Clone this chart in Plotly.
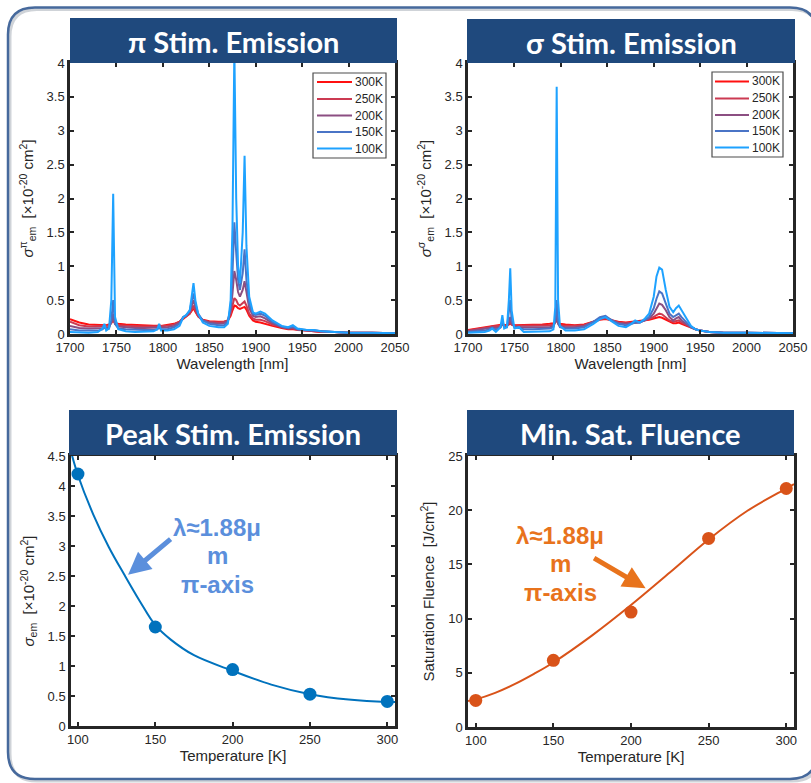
import plotly.graph_objects as go

# ---------------- data ----------------
temps = ["300K", "250K", "200K", "150K", "100K"]
temp_colors = ["#ff1010", "#cc3a52", "#8c4f82", "#4a74c6", "#1ea2ff"]

# pi-polarised stimulated emission cross section [1e-20 cm^2]
wl_pi = [1700, 1710, 1720, 1730, 1735, 1737, 1739, 1742, 1744.5, 1746.5, 1748.5, 1752, 1760, 1770, 1780,
         1790, 1794, 1796, 1798, 1805, 1812, 1818, 1822, 1825, 1829, 1831, 1833, 1835, 1838, 1843,
         1850, 1860, 1866, 1870, 1873, 1875, 1877, 1879, 1881, 1883, 1886, 1888, 1890, 1893, 1897,
         1900, 1905, 1910, 1918, 1928, 1935, 1940, 1945, 1955, 1963, 1970, 1985, 2000, 2025, 2050]
pi_300K = [0.22, 0.17, 0.14, 0.13, 0.13, 0.13, 0.13, 0.14, 0.17, 0.20, 0.16, 0.15, 0.14, 0.13, 0.12,
           0.12, 0.12, 0.13, 0.12, 0.13, 0.15, 0.18, 0.22, 0.25, 0.30, 0.34, 0.38, 0.33, 0.26, 0.21,
           0.19, 0.18, 0.18, 0.20, 0.27, 0.35, 0.42, 0.41, 0.38, 0.37, 0.39, 0.40, 0.36, 0.27, 0.20,
           0.18, 0.17, 0.15, 0.12, 0.09, 0.07, 0.07, 0.06, 0.05, 0.04, 0.03, 0.03, 0.02, 0.02, 0.01]
pi_250K = [0.18, 0.13, 0.11, 0.11, 0.11, 0.12, 0.11, 0.12, 0.16, 0.22, 0.15, 0.13, 0.12, 0.11, 0.11,
           0.11, 0.11, 0.12, 0.11, 0.12, 0.14, 0.18, 0.24, 0.26, 0.30, 0.36, 0.42, 0.35, 0.26, 0.20,
           0.18, 0.17, 0.18, 0.20, 0.30, 0.42, 0.53, 0.50, 0.44, 0.42, 0.45, 0.48, 0.42, 0.30, 0.23,
           0.21, 0.21, 0.19, 0.14, 0.10, 0.08, 0.08, 0.06, 0.05, 0.04, 0.03, 0.03, 0.02, 0.02, 0.01]
pi_200K = [0.12, 0.09, 0.08, 0.08, 0.09, 0.10, 0.09, 0.10, 0.18, 0.30, 0.15, 0.11, 0.10, 0.09, 0.09,
           0.09, 0.09, 0.10, 0.09, 0.10, 0.12, 0.17, 0.25, 0.27, 0.33, 0.42, 0.50, 0.40, 0.28, 0.20,
           0.17, 0.15, 0.16, 0.20, 0.35, 0.60, 0.93, 0.80, 0.62, 0.55, 0.65, 0.78, 0.60, 0.38, 0.27,
           0.25, 0.26, 0.23, 0.16, 0.10, 0.08, 0.09, 0.07, 0.05, 0.05, 0.04, 0.03, 0.02, 0.02, 0.01]
pi_150K = [0.07, 0.05, 0.05, 0.05, 0.07, 0.10, 0.07, 0.08, 0.20, 0.50, 0.15, 0.08, 0.07, 0.06, 0.06,
           0.06, 0.07, 0.10, 0.07, 0.07, 0.10, 0.15, 0.25, 0.27, 0.35, 0.48, 0.60, 0.45, 0.30, 0.20,
           0.15, 0.13, 0.13, 0.18, 0.40, 0.90, 1.65, 1.20, 0.80, 0.65, 0.90, 1.25, 0.80, 0.45, 0.30,
           0.28, 0.30, 0.27, 0.18, 0.11, 0.09, 0.11, 0.07, 0.06, 0.05, 0.04, 0.03, 0.02, 0.02, 0.01]
pi_100K = [0.03, 0.02, 0.02, 0.03, 0.08, 0.15, 0.05, 0.08, 0.50, 2.07, 0.25, 0.07, 0.04, 0.03, 0.03,
           0.04, 0.07, 0.15, 0.05, 0.05, 0.07, 0.12, 0.25, 0.28, 0.35, 0.55, 0.75, 0.50, 0.30, 0.17,
           0.12, 0.10, 0.10, 0.15, 0.50, 1.60, 4.20, 2.00, 1.00, 0.75, 1.50, 2.63, 1.30, 0.55, 0.32,
           0.30, 0.33, 0.30, 0.20, 0.12, 0.10, 0.13, 0.08, 0.06, 0.06, 0.04, 0.03, 0.02, 0.02, 0.01]

# sigma-polarised stimulated emission cross section [1e-20 cm^2]
wl_sg = [1700, 1710, 1718, 1723, 1726, 1730, 1735, 1737, 1739, 1742, 1744, 1745.5, 1747, 1750, 1755,
         1760, 1770, 1780, 1788, 1792, 1794, 1795.5, 1797, 1799, 1805, 1815, 1825, 1835, 1842, 1848,
         1855, 1862, 1870, 1876, 1880, 1885, 1890, 1895, 1900, 1903, 1906, 1909, 1913, 1917, 1921,
         1924, 1927, 1930, 1935, 1940, 1945, 1950, 1960, 1975, 2000, 2025, 2050]
sg_300K = [0.06, 0.08, 0.10, 0.11, 0.12, 0.12, 0.13, 0.14, 0.13, 0.13, 0.14, 0.16, 0.14, 0.13, 0.13,
           0.13, 0.13, 0.14, 0.15, 0.16, 0.18, 0.20, 0.17, 0.15, 0.14, 0.13, 0.14, 0.18, 0.21, 0.22,
           0.20, 0.18, 0.17, 0.18, 0.19, 0.19, 0.20, 0.21, 0.23, 0.24, 0.25, 0.24, 0.21, 0.18, 0.16,
           0.16, 0.17, 0.15, 0.12, 0.09, 0.07, 0.05, 0.03, 0.02, 0.02, 0.01, 0.01]
sg_250K = [0.05, 0.07, 0.08, 0.10, 0.11, 0.11, 0.12, 0.14, 0.12, 0.12, 0.15, 0.18, 0.14, 0.12, 0.12,
           0.12, 0.12, 0.12, 0.13, 0.14, 0.17, 0.22, 0.16, 0.13, 0.12, 0.12, 0.13, 0.18, 0.22, 0.23,
           0.20, 0.17, 0.16, 0.17, 0.18, 0.18, 0.20, 0.22, 0.25, 0.28, 0.30, 0.29, 0.25, 0.20, 0.18,
           0.19, 0.20, 0.17, 0.13, 0.10, 0.07, 0.05, 0.03, 0.02, 0.02, 0.01, 0.01]
sg_200K = [0.04, 0.06, 0.07, 0.09, 0.10, 0.09, 0.10, 0.15, 0.11, 0.11, 0.18, 0.25, 0.15, 0.11, 0.10,
           0.10, 0.10, 0.10, 0.10, 0.12, 0.18, 0.30, 0.15, 0.11, 0.10, 0.10, 0.12, 0.18, 0.23, 0.25,
           0.20, 0.16, 0.15, 0.16, 0.17, 0.17, 0.20, 0.23, 0.30, 0.38, 0.45, 0.43, 0.35, 0.25, 0.20,
           0.23, 0.25, 0.20, 0.15, 0.10, 0.07, 0.05, 0.03, 0.02, 0.02, 0.01, 0.01]
sg_150K = [0.03, 0.04, 0.05, 0.07, 0.09, 0.06, 0.10, 0.20, 0.10, 0.10, 0.30, 0.50, 0.20, 0.10, 0.09,
           0.07, 0.07, 0.07, 0.08, 0.10, 0.20, 0.50, 0.20, 0.10, 0.08, 0.08, 0.10, 0.18, 0.25, 0.27,
           0.20, 0.15, 0.13, 0.15, 0.17, 0.17, 0.20, 0.25, 0.38, 0.52, 0.63, 0.60, 0.45, 0.30, 0.25,
           0.28, 0.30, 0.25, 0.17, 0.10, 0.07, 0.05, 0.03, 0.02, 0.02, 0.01, 0.01]
sg_100K = [0.02, 0.02, 0.03, 0.05, 0.08, 0.03, 0.10, 0.28, 0.08, 0.10, 0.50, 0.97, 0.35, 0.08, 0.10,
           0.03, 0.03, 0.03, 0.04, 0.07, 0.40, 3.65, 0.50, 0.12, 0.05, 0.05, 0.07, 0.15, 0.22, 0.25,
           0.18, 0.12, 0.10, 0.15, 0.20, 0.17, 0.22, 0.30, 0.55, 0.85, 0.98, 0.95, 0.65, 0.40, 0.32,
           0.38, 0.42, 0.35, 0.22, 0.12, 0.07, 0.05, 0.03, 0.02, 0.02, 0.01, 0.01]

pi_series = [pi_300K, pi_250K, pi_200K, pi_150K, pi_100K]
sg_series = [sg_300K, sg_250K, sg_200K, sg_150K, sg_100K]

# peak cross section and saturation fluence vs temperature (lambda ~ 1.88 um, pi axis)
T_meas = [100, 150, 200, 250, 300]
peak_sigma = [4.20, 1.65, 0.94, 0.53, 0.41]
sat_fluence = [2.45, 6.15, 10.6, 17.4, 22.0]

# smooth fitted curves
T_fit = [95, 100, 110, 120, 130, 140, 150, 160, 175, 200, 225, 250, 275, 300, 305]
peak_sigma_fit = [4.62, 4.18, 3.52, 2.98, 2.52, 2.08, 1.68, 1.44, 1.18, 0.92, 0.69, 0.53, 0.44, 0.40, 0.40]
T_fit2 = [95, 100, 112.5, 125, 137.5, 150, 175, 200, 225, 250, 275, 300, 305]
sat_fluence_fit = [2.40, 2.55, 3.15, 3.95, 4.90, 5.95, 8.45, 11.25, 14.25, 17.30, 19.95, 22.00, 22.40]

# ---------------- layout helpers ----------------
W, H = 811, 783


def fx(x):
    return x / W


def fy(y):
    return 1 - y / H


SANS = "Arial, Liberation Sans, sans-serif"
TICK_FONT = dict(family=SANS, size=13, color="#262626")
TITLE_FONT = dict(family=SANS, size=15, color="#262626")


def axis_style(**kw):
    base = dict(
        showline=True, mirror="ticks", linecolor="#262626", linewidth=2.5,
        ticks="inside", ticklen=4, tickwidth=2, tickcolor="#262626",
        showgrid=False, zeroline=False, tickfont=TICK_FONT,
        title_font=TITLE_FONT, automargin=False,
    )
    base.update(kw)
    return base


fig = go.Figure()

# spectra
for name, col, vals in zip(temps, temp_colors, pi_series):
    fig.add_trace(go.Scatter(x=wl_pi, y=vals, mode="lines", name=name, showlegend=False,
                             line=dict(color=col, width=2), xaxis="x", yaxis="y"))
for name, col, vals in zip(temps, temp_colors, sg_series):
    fig.add_trace(go.Scatter(x=wl_sg, y=vals, mode="lines", name=name, showlegend=False,
                             line=dict(color=col, width=2), xaxis="x2", yaxis="y2"))

# peak stimulated emission vs temperature
fig.add_trace(go.Scatter(x=T_fit, y=peak_sigma_fit, mode="lines", line=dict(color="#0072bd", width=2, shape="spline"),
                         showlegend=False, xaxis="x3", yaxis="y3"))
fig.add_trace(go.Scatter(x=T_meas, y=peak_sigma, mode="markers", marker=dict(color="#0072bd", size=13),
                         showlegend=False, xaxis="x3", yaxis="y3", cliponaxis=False))

# saturation fluence vs temperature
fig.add_trace(go.Scatter(x=T_fit2, y=sat_fluence_fit, mode="lines", line=dict(color="#d95319", width=2, shape="spline"),
                         showlegend=False, xaxis="x4", yaxis="y4"))
fig.add_trace(go.Scatter(x=T_meas, y=sat_fluence, mode="markers", marker=dict(color="#d95319", size=13),
                         showlegend=False, xaxis="x4", yaxis="y4", cliponaxis=False))

wl_ticks = [1700, 1750, 1800, 1850, 1900, 1950, 2000, 2050]
T_ticks = [100, 150, 200, 250, 300]

ylab_pi = "<i>σ</i><sup>π</sup><sub>em</sub>  [×10<sup>-20</sup> cm<sup>2</sup>]"
ylab_sg = "<i>σ</i><sup>σ</sup><sub>em</sub>  [×10<sup>-20</sup> cm<sup>2</sup>]"
ylab_pk = "<i>σ</i><sub>em</sub>  [×10<sup>-20</sup> cm<sup>2</sup>]"
ylab_fl = "Saturation Fluence  [J/cm<sup>2</sup>]"

fig.update_layout(
    width=W, height=H,
    margin=dict(l=0, r=0, t=0, b=0, autoexpand=False),
    paper_bgcolor="white", plot_bgcolor="white",
    xaxis=axis_style(domain=[fx(70), fx(395)], range=[1700, 2050], tickvals=wl_ticks,
                     anchor="y", title_text="Wavelength [nm]", title_standoff=5),
    yaxis=axis_style(domain=[fy(334), fy(63)], range=[0, 4], dtick=0.5, anchor="x",
                     title_text=ylab_pi, title_standoff=10),
    xaxis2=axis_style(domain=[fx(468), fx(793)], range=[1700, 2050], tickvals=wl_ticks,
                      anchor="y2", title_text="Wavelength [nm]", title_standoff=5),
    yaxis2=axis_style(domain=[fy(334), fy(63)], range=[0, 4], dtick=0.5, anchor="x2",
                      title_text=ylab_sg, title_standoff=10),
    xaxis3=axis_style(domain=[fx(71), fx(395)], range=[95.5, 305], tickvals=T_ticks,
                      anchor="y3", title_text="Temperature [K]", title_standoff=5),
    yaxis3=axis_style(domain=[fy(726), fy(456)], range=[0, 4.5], dtick=0.5, anchor="x3",
                      title_text=ylab_pk, title_standoff=10),
    xaxis4=axis_style(domain=[fx(468), fx(794)], range=[95, 305], tickvals=T_ticks,
                      anchor="y4", title_text="Temperature [K]", title_standoff=5),
    yaxis4=axis_style(domain=[fy(727), fy(456)], range=[0, 25], dtick=5, anchor="x4",
                      title_text=ylab_fl, title_standoff=10),
)

# rounded outer frame
L, T, R, B, r = 8, 7.5, 817, 779, 27


def frame_path(dx=0.0, dy=0.0):
    l, t, rr, b = L + dx, T + dy, R + dx, B + dy
    pts = [
        ("M", (l, t + r)), ("Q", (l, t), (l + r, t)), ("L", (rr - r, t)),
        ("Q", (rr, t), (rr, t + r)), ("L", (rr, b - r)), ("Q", (rr, b), (rr - r, b)),
        ("L", (l + r, b)), ("Q", (l, b), (l, b - r)),
    ]
    out = []
    for item in pts:
        cmd, coords = item[0], item[1:]
        out.append(cmd + " " + " ".join(f"{fx(x):.5f},{fy(y):.5f}" for x, y in coords))
    return " ".join(out) + " Z"


shapes = [
    dict(type="path", xref="paper", yref="paper", path=frame_path(2, 2),
         line=dict(color="#cfd3d8", width=3), layer="below"),
    dict(type="path", xref="paper", yref="paper", path=frame_path(),
         line=dict(color="#46699c", width=2.5), layer="below"),
]
annotations = []

# title banners
banners = [
    ((70, 18, 397, 63), "π Stim. Emission"),
    ((467, 19, 795, 63), "σ Stim. Emission"),
    ((69, 410, 397, 455), "Peak Stim. Emission"),
    ((467, 410, 794, 455), "Min. Sat. Fluence"),
]
for (x0, y0, x1, y1), text in banners:
    shapes.append(dict(type="rect", xref="paper", yref="paper",
                       x0=fx(x0), x1=fx(x1), y0=fy(y1), y1=fy(y0),
                       fillcolor="#1f497d", line=dict(width=0), layer="above"))
    annotations.append(dict(xref="paper", yref="paper", x=fx((x0 + x1) / 2), y=fy((y0 + y1) / 2 + 1),
                            text=f"<b>{text}</b>", showarrow=False, xanchor="center", yanchor="middle",
                            font=dict(family="Lato, Open Sans, sans-serif", size=29, color="white")))

# legends for the two spectra panels: box (x0, y0, x1, y1) and entry rows
legend_boxes = [
    ((313, 73, 386, 158), [82, 99, 115.5, 132, 148.5], 317, 352),
    ((712, 72, 783, 157), [81.5, 98.5, 115, 131, 147.5], 715, 749),
]
for (x0, y0, x1, y1), rows, lx0, lx1 in legend_boxes:
    shapes.append(dict(type="rect", xref="paper", yref="paper",
                       x0=fx(x0), x1=fx(x1), y0=fy(y1), y1=fy(y0),
                       fillcolor="white", line=dict(color="#4d4d4d", width=1.2), layer="above"))
    for name, col, yy in zip(temps, temp_colors, rows):
        shapes.append(dict(type="line", xref="paper", yref="paper",
                           x0=fx(lx0), x1=fx(lx1), y0=fy(yy), y1=fy(yy),
                           line=dict(color=col, width=2), layer="above"))
        annotations.append(dict(xref="paper", yref="paper", x=fx(lx1 + 1), y=fy(yy),
                                text=name, showarrow=False, xanchor="left", yanchor="middle",
                                font=dict(family=SANS, size=12, color="#262626")))

# annotation text and arrows on the temperature plots
note_lines = ["<b>λ≈1.88μ</b>", "<b>m</b>", "<b>π-axis</b>"]
note_specs = [
    (217, [527, 555.5, 584], "#5b8fdc"),
    (560, [535, 563.5, 592], "#e8731c"),
]
for cx, ys, col in note_specs:
    for txt, yy in zip(note_lines, ys):
        annotations.append(dict(xref="paper", yref="paper", x=fx(cx), y=fy(yy), text=txt,
                                showarrow=False, xanchor="center", yanchor="middle",
                                font=dict(family=SANS, size=24, color=col)))

annotations += [
    dict(xref="x3", yref="y3", x=132.4, y=2.52, ax=44, ay=-37, text="", showarrow=True,
         arrowhead=2, arrowsize=0.9, arrowwidth=5, arrowcolor="#5b8fdc"),
    dict(xref="x4", yref="y4", x=209.4, y=12.8, ax=-53, ay=-31, text="", showarrow=True,
         arrowhead=2, arrowsize=0.9, arrowwidth=5, arrowcolor="#e8731c"),
]

fig.update_layout(shapes=shapes, annotations=annotations)
fig.write_html("out.html")
